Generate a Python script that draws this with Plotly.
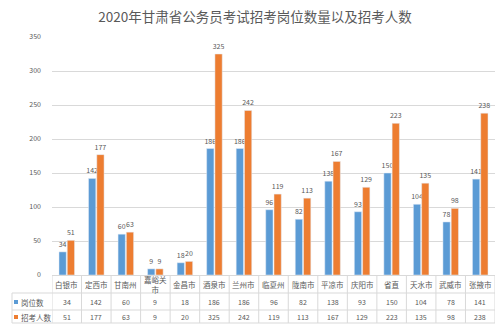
import plotly.graph_objects as go

# 2020 Gansu civil-service exam: posts offered and number of recruits by region
regions = ["白银市", "定西市", "甘南州", "嘉峪关市", "金昌市", "酒泉市", "兰州市", "临夏州",
           "陇南市", "平凉市", "庆阳市", "省直", "天水市", "武威市", "张掖市"]
region_labels = ["白银市", "定西市", "甘南州", "嘉峪关<br>市", "金昌市", "酒泉市", "兰州市", "临夏州",
                 "陇南市", "平凉市", "庆阳市", "省直", "天水市", "武威市", "张掖市"]
posts = [34, 142, 60, 9, 18, 186, 186, 96, 82, 138, 93, 150, 104, 78, 141]
recruits = [51, 177, 63, 9, 20, 325, 242, 119, 113, 167, 129, 223, 135, 98, 238]
series_names = ["岗位数", "招考人数"]
y_ticks = [0, 50, 100, 150, 200, 250, 300, 350]

BLUE = "#5B9BD5"
ORANGE = "#ED7D31"
TEXT = "#595959"
GRID = "#D9D9D9"
FONT = "Noto Sans CJK SC"

fig = go.Figure()
for name, vals, col in [(series_names[0], posts, BLUE), (series_names[1], recruits, ORANGE)]:
    fig.add_trace(go.Bar(
        x=regions, y=vals, name=name, marker_color=col,
        text=vals, texttemplate="%{text}", textposition="outside",
        constraintext="none",
        textfont=dict(size=7, color=TEXT, family=FONT), cliponaxis=False,
    ))

W, H = 500, 326
ml, mr, mt, mb = 52, 5, 37, 51
plot_h = H - mt - mb
plot_w = W - ml - mr


def py(p):
    """pixel row -> paper y"""
    return (H - mb - p) / plot_h


def px(p):
    """pixel column -> paper x"""
    return (p - ml) / plot_w


shapes = []
annotations = []
line = dict(color=GRID, width=1)

# data table under the axis
row_lab, row_a, row_b = 284, 302, 317
h_lines = [293, 310, 323]
for hp in h_lines:
    shapes.append(dict(type="line", xref="paper", yref="paper",
                       x0=px(12), x1=1, y0=py(hp), y1=py(hp), line=line))
for i in range(len(regions) + 1):
    shapes.append(dict(type="line", xref="x", yref="paper",
                       x0=i - 0.5, x1=i - 0.5, y0=0, y1=py(323), line=line))
shapes.append(dict(type="line", xref="paper", yref="paper",
                   x0=px(12), x1=px(12), y0=py(293), y1=py(323), line=line))

for i, r in enumerate(regions):
    annotations.append(dict(x=r, xref="x", y=py(row_lab), yref="paper", text=region_labels[i],
                            showarrow=False, font=dict(size=7.5, color=TEXT, family=FONT),
                            yanchor="middle", xanchor="center"))
    annotations.append(dict(x=r, xref="x", y=py(row_a), yref="paper", text=str(posts[i]),
                            showarrow=False, font=dict(size=7, color=TEXT, family=FONT),
                            yanchor="middle"))
    annotations.append(dict(x=r, xref="x", y=py(row_b), yref="paper", text=str(recruits[i]),
                            showarrow=False, font=dict(size=7, color=TEXT, family=FONT),
                            yanchor="middle"))

# legend keys inside the table
for rowp, name, col in [(row_a, series_names[0], BLUE), (row_b, series_names[1], ORANGE)]:
    shapes.append(dict(type="rect", xref="paper", yref="paper",
                       x0=px(14), x1=px(18), y0=py(rowp + 2), y1=py(rowp - 2),
                       fillcolor=col, line=dict(width=0)))
    annotations.append(dict(x=px(19), xref="paper", y=py(rowp), yref="paper", text=name,
                            showarrow=False, xanchor="left", yanchor="middle",
                            font=dict(size=7.5, color=TEXT, family=FONT)))

fig.update_layout(
    width=W, height=H,
    margin=dict(l=ml, r=mr, t=mt, b=mb),
    paper_bgcolor="white", plot_bgcolor="white",
    title=dict(text="2020年甘肃省公务员考试招考岗位数量以及招考人数",
               x=0.51, xanchor="center", y=1 - 17 / H, yanchor="middle",
               font=dict(size=13.5, color=TEXT, family=FONT)),
    barmode="group", bargap=0.44, bargroupgap=0.12,
    showlegend=False,
    font=dict(family=FONT, color=TEXT),
    xaxis=dict(showticklabels=False, showgrid=False, zeroline=False,
               showline=True, linecolor=GRID, linewidth=1, ticks="",
               range=[-0.5, len(regions) - 0.5]),
    yaxis=dict(range=[0, 350], tickvals=y_ticks, showgrid=True, gridcolor=GRID,
               gridwidth=1, zeroline=False, showline=False, ticks="",
               tickfont=dict(size=7, color=TEXT, family=FONT), ticklabelstandoff=10),
    shapes=shapes, annotations=annotations,
)

fig.write_html("out.html")
